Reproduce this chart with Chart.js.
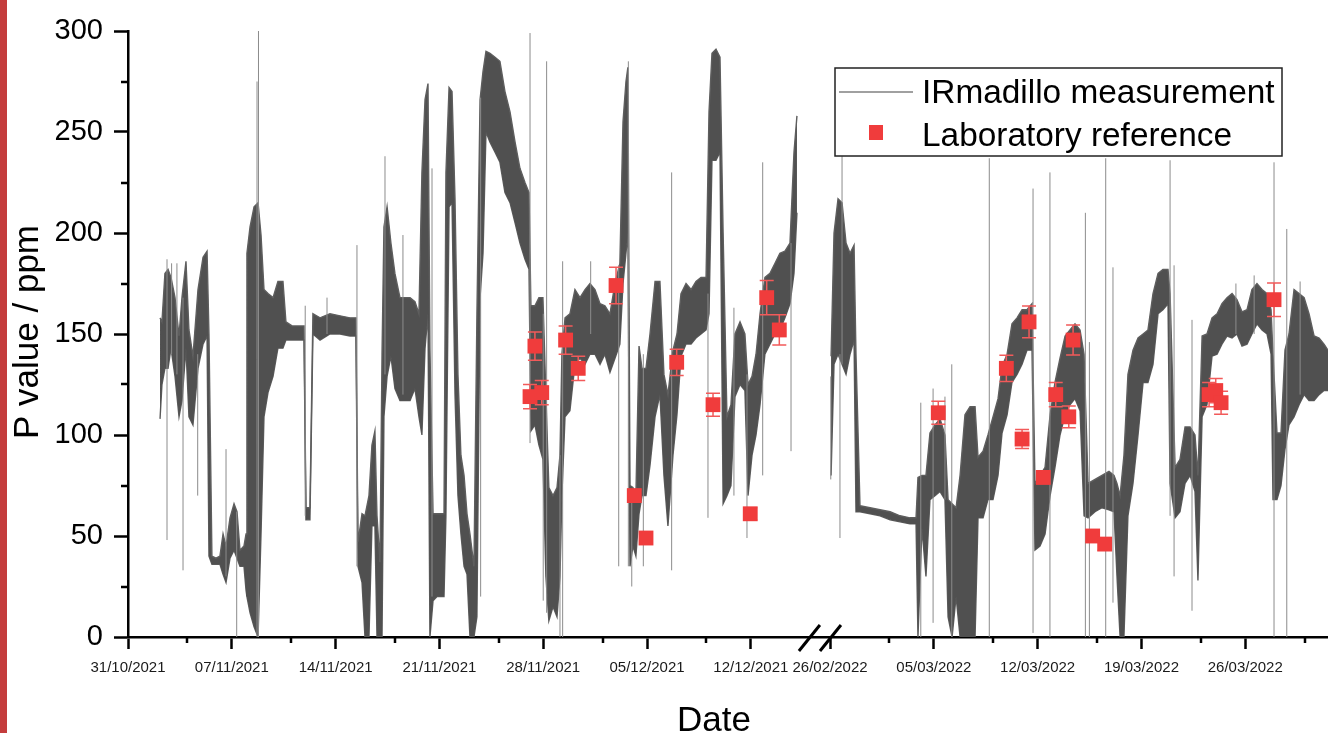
<!DOCTYPE html>
<html>
<head>
<meta charset="utf-8">
<script src="https://cdn.jsdelivr.net/npm/chart.js@4/dist/chart.umd.min.js"></script>
<style>
  html, body { margin: 0; padding: 0; background: #fff; }
  #wrap { position: relative; width: 1328px; height: 733px; overflow: hidden; }
  #stripe { position: absolute; left: 0; top: 0; width: 7px; height: 733px; background: #c43c3c; }
  #chart { position: absolute; left: 0; top: 0; }
</style>
</head>
<body>
<div id="wrap">
  <div id="stripe"></div>
  <canvas id="chart" width="1328" height="733"></canvas>
</div>
<script>
const FONT = "'Liberation Sans', Arial, sans-serif";

// IRmadillo trace, first campaign (days since 31/10/2021): lower / upper edge of the noisy band, ppm
const leftDay = [2.16, 2.29, 2.49, 2.70, 2.90, 3.17, 3.44, 3.64, 3.91, 4.11,
  4.38, 4.72, 5.06, 5.33, 5.46, 5.66, 5.93, 6.20, 6.41, 6.61,
  6.88, 7.15, 7.35, 7.55, 7.82, 7.96, 8.02, 8.23, 8.50, 8.77,
  8.97, 9.17, 9.44, 9.78, 10.11, 10.45, 10.65, 11.06, 11.46, 11.87,
  12.00, 12.27, 12.47, 12.95, 13.62, 14.30, 14.97, 15.37, 15.51, 15.78,
  15.98, 16.25, 16.45, 16.65, 16.79, 16.99, 17.13, 17.26, 17.47, 17.73,
  18.00, 18.34, 18.68, 19.02, 19.35, 19.62, 19.82, 20.03, 20.23, 20.36,
  20.57, 20.84, 21.11, 21.31, 21.44, 21.65, 21.85, 22.05, 22.25, 22.45,
  22.66, 22.86, 23.06, 23.33, 23.53, 23.74, 23.94, 24.14, 24.41, 24.75,
  25.08, 25.42, 25.76, 26.10, 26.43, 26.77, 27.04, 27.17, 27.44, 27.71,
  27.98, 28.18, 28.38, 28.66, 28.93, 29.13, 29.26, 29.47, 29.80, 30.14,
  30.48, 30.82, 31.15, 31.49, 31.83, 32.16, 32.50, 32.84, 33.17, 33.38,
  33.58, 33.71, 33.85, 34.05, 34.25, 34.46, 34.66, 34.93, 35.20, 35.54,
  35.87, 36.14, 36.41, 36.75, 37.02, 37.29, 37.63, 37.97, 38.30, 38.64,
  38.98, 39.18, 39.38, 39.65, 39.92, 40.13, 40.39, 40.66, 40.93, 41.27,
  41.60, 41.81, 42.08, 42.35, 42.62, 42.95, 43.29, 43.63, 43.96, 44.30,
  44.64, 44.91, 45.11];
const leftLow = [108, 125, 133, 133, 143, 129, 109, 117, 143, 109,
  105, 133, 145, 149, 40, 36, 36, 36, 31, 27,
  39, 43, 39, 35, 35, 23, 20, 12, 5, 0,
  51, 109, 121, 129, 143, 143, 147, 147, 147, 147,
  58, 58, 150, 147, 150, 150, 149, 149, 35, 27,
  0, 0, 55, 55, 0, 0, 0, 109, 129, 139,
  123, 117, 117, 117, 123, 109, 100, 143, 160, 0,
  18, 20, 20, 20, 60, 213, 215, 120, 70, 51,
  35, 31, 0, 0, 10, 168, 190, 250, 245, 240,
  235, 220, 215, 205, 195, 187, 182, 102, 105, 95,
  88, 30, 8, 15, 10, 30, 70, 109, 112, 135,
  138, 135, 140, 140, 135, 140, 131, 138, 145, 175,
  190, 200, 35, 45, 40, 61, 70, 70, 85, 109,
  120, 80, 55, 90, 110, 139, 145, 145, 148, 150,
  152, 160, 236, 236, 240, 66, 70, 75, 119, 125,
  122, 70, 90, 100, 115, 140, 145, 150, 152, 158,
  165, 180, 210];
const leftHigh = [158, 156, 180, 182, 178, 168, 149, 168, 186, 152,
  139, 172, 188, 191, 150, 40, 39, 40, 51, 45,
  59, 66, 62, 43, 45, 51, 190, 203, 213, 215,
  199, 172, 170, 168, 176, 176, 156, 154, 154, 154,
  64, 64, 160, 158, 160, 159, 158, 158, 47, 61,
  60, 70, 95, 102, 60, 37, 140, 203, 213, 195,
  180, 168, 168, 168, 166, 160, 230, 266, 274, 143,
  61, 61, 61, 61, 230, 272, 270, 217, 130, 90,
  80, 61, 51, 35, 160, 266, 280, 290, 289, 287,
  285, 270, 260, 245, 232, 225, 220, 164, 164, 168,
  168, 120, 74, 70, 74, 90, 140, 158, 160, 172,
  168, 172, 175, 172, 165, 164, 160, 175, 185, 255,
  275, 282, 75, 74, 70, 144, 133, 133, 150, 176,
  176, 130, 120, 142, 150, 170, 175, 172, 176, 178,
  178, 260, 289, 291, 287, 200, 109, 115, 150, 156,
  150, 125, 129, 140, 160, 178, 180, 185, 190, 191,
  195, 240, 258];

// single readings that stick out of the band
const leftSpikeDay = [2.63, 2.94, 3.30, 3.71, 4.70, 6.61, 7.33, 8.70, 8.80, 11.95,
  13.42, 15.44, 17.33, 18.54, 20.50, 23.78, 27.11, 28.00, 28.23, 29.13,
  29.31, 31.20, 33.09, 33.74, 33.97, 34.75, 36.66, 39.11, 40.86, 41.74,
  42.80, 44.71];
const leftSpikeLow = [48, 140, 130, 33, 70, 30, 0, 0, 0, 60,
  150, 35, 130, 120, 20, 20, 96, 18, 12, 0,
  0, 150, 35, 35, 25, 35, 33, 59, 70, 49,
  80, 92];
const leftSpikeHigh = [187, 185, 185, 168, 140, 93, 62, 275, 300, 164,
  168, 194, 238, 199, 232, 267, 299, 160, 285, 90,
  186, 186, 184, 285, 70, 140, 230, 170, 163, 130,
  235, 195];

// second campaign (days since 26/02/2022)
const rightDay = [0.07, 0.27, 0.54, 0.81, 1.08, 1.35, 1.62, 1.75, 2.02, 2.70,
  3.37, 4.05, 4.72, 5.39, 5.80, 5.93, 6.20, 6.47, 6.74, 7.08,
  7.42, 7.75, 7.96, 8.23, 8.50, 8.77, 9.10, 9.44, 9.78, 9.98,
  10.32, 10.65, 10.99, 11.33, 11.60, 11.94, 12.27, 12.61, 12.95, 13.28,
  13.62, 13.82, 14.16, 14.50, 14.84, 15.17, 15.51, 15.85, 16.18, 16.52,
  16.86, 17.13, 17.40, 17.87, 18.34, 18.81, 19.15, 19.35, 19.56, 19.82,
  20.09, 20.43, 20.77, 21.11, 21.44, 21.78, 22.12, 22.45, 22.79, 22.93,
  23.27, 23.60, 23.94, 24.28, 24.61, 24.81, 25.09, 25.42, 25.76, 26.10,
  26.43, 26.77, 27.11, 27.44, 27.78, 28.12, 28.45, 28.79, 29.13, 29.47,
  29.74, 29.87, 30.14, 30.41, 30.68, 30.95, 31.29, 31.63, 31.97, 32.30,
  32.64, 32.98, 33.31, 33.58];
const rightLow = [80, 135, 140, 135, 130, 140, 147, 62, 62, 61,
  60, 58, 57, 56, 56, 0, 54, 30, 68, 70,
  72, 68, 10, 0, 20, 0, 0, 0, 0, 59,
  59, 68, 68, 80, 101, 110, 126, 130, 135, 142,
  142, 43, 45, 51, 70, 84, 100, 110, 115, 118,
  112, 60, 59, 62, 64, 63, 62, 30, 0, 0,
  60, 76, 100, 126, 126, 135, 160, 162, 165, 76,
  59, 62, 76, 80, 72, 28, 109, 115, 139, 140,
  145, 149, 148, 150, 144, 145, 150, 155, 152, 150,
  140, 68, 68, 75, 93, 105, 109, 115, 120, 117,
  117, 120, 122, 122];
const rightHigh = [139, 200, 217, 215, 195, 190, 194, 140, 65, 64,
  63, 62, 60, 59, 59, 79, 80, 80, 101, 105,
  108, 100, 68, 66, 64, 80, 110, 114, 114, 89,
  92, 100, 109, 118, 134, 140, 155, 158, 162, 162,
  165, 76, 80, 84, 110, 126, 138, 149, 152, 155,
  152, 140, 76, 78, 80, 82, 80, 76, 70, 90,
  130, 142, 148, 150, 152, 170, 180, 182, 182, 170,
  84, 88, 104, 104, 100, 80, 149, 150, 158, 160,
  165, 168, 170, 167, 161, 162, 172, 175, 172, 170,
  162, 140, 101, 101, 142, 150, 172, 170, 168, 160,
  149, 148, 145, 142];

const rightSpikeDay = [0.05, 0.67, 0.81, 6.12, 6.95, 7.75, 8.21, 10.74, 13.69, 14.83,
  17.22, 17.49, 18.59, 19.08, 22.93, 23.20, 24.41, 27.37, 28.60, 29.94,
  30.80, 31.70];
const rightSpikeLow = [78, 49, 135, 0, 7, 68, 0, 0, 2, 0,
  0, 0, 0, 17, 60, 30, 13, 150, 150, 0,
  0, 120];
const rightSpikeHigh = [129, 140, 238, 116, 123, 119, 135, 237, 222, 230,
  210, 146, 237, 183, 236, 184, 157, 175, 179, 235,
  202, 176];

// laboratory reference values with their uncertainty, ppm
const labLeftDay = [27.11, 27.44, 27.90, 29.51, 30.36, 32.91, 34.14, 34.93, 37.00, 39.45, 41.96, 43.07, 43.92];
const labLeftValue = [119, 144, 121, 147, 133, 174, 70, 49, 136, 115, 61, 168, 152];
const labLeftError = [6, 7, 6, 7, 6, 9, 3, 3, 6.5, 5.7, 3, 8.5, 7.5];
const labRightDay = [7.30, 11.89, 12.95, 13.42, 14.38, 15.22, 16.10, 16.39, 17.71, 18.52, 25.56, 26.01, 26.37, 29.94];
const labRightValue = [111, 133, 98, 156, 79, 120, 109, 147, 50, 46, 120, 122, 116, 167];
const labRightError = [5.7, 6.5, 4.7, 7.8, 3, 6, 5.4, 7.4, 3, 3, 6, 6, 5.7, 8.3];

// date axis
const leftTickDays = [0, 7, 14, 21, 28, 35, 42];
const leftTickLabels = ['31/10/2021', '07/11/2021', '14/11/2021', '21/11/2021', '28/11/2021', '05/12/2021', '12/12/2021'];
const rightTickDays = [0, 7, 14, 21, 28];
const rightTickLabels = ['26/02/2022', '05/03/2022', '12/03/2022', '19/03/2022', '26/03/2022'];
const yMinorValues = [25, 75, 125, 175, 225, 275];

// broken axis: 26/02/2022 sits this many "axis days" after 31/10/2021
const GAP_OFFSET = 47.34;
const AXIS_END = 80.92;
const BREAK_AT = [45.95, 47.37];
const LEFT_END = 45.9;

const xTicks = leftTickDays.concat(rightTickDays.map(d => d + GAP_OFFSET));
const xLabels = leftTickLabels.concat(rightTickLabels);
const xMinor = leftTickDays.map(d => d + 4).filter(d => d < LEFT_END)
  .concat(rightTickDays.map(d => d + 4 + GAP_OFFSET));

const toPoints = (days, vals, offset) => days.map((d, i) => ({ x: d + offset, y: vals[i] }));
const toSpikes = (days, lo, hi, offset) => {
  let pts = [];
  days.forEach((d, i) => {
    pts.push({ x: d + offset, y: lo[i] }, { x: d + offset, y: hi[i] }, { x: d + offset, y: null });
  });
  return pts;
};

const labPoints = toPoints(labLeftDay, labLeftValue, 0).concat(toPoints(labRightDay, labRightValue, GAP_OFFSET));
const labError = labLeftError.concat(labRightError);

const trace = { type: 'line', borderColor: '#5e5e5e', borderWidth: 1.4, pointRadius: 0, tension: 0 };

// error bars, drawn just under the red squares
const errorBars = {
  id: 'errorBars',
  beforeDatasetDraw(chart, args) {
    if (args.index !== 5) return;
    const { ctx, scales: { x, y } } = chart;
    ctx.save();
    ctx.strokeStyle = '#f25a5a';
    ctx.lineWidth = 1.5;
    ctx.beginPath();
    labPoints.forEach((p, i) => {
      const px = x.getPixelForValue(p.x);
      const top = y.getPixelForValue(p.y + labError[i]);
      const bot = y.getPixelForValue(p.y - labError[i]);
      ctx.moveTo(px, top); ctx.lineTo(px, bot);
      ctx.moveTo(px - 7, top); ctx.lineTo(px + 7, top);
      ctx.moveTo(px - 7, bot); ctx.lineTo(px + 7, bot);
    });
    ctx.stroke();
    ctx.restore();
  }
};

// minor ticks, axis break, titles and the framed legend
const decorations = {
  id: 'decorations',
  afterDraw(chart) {
    const { ctx, chartArea, scales: { x, y } } = chart;
    ctx.save();
    ctx.strokeStyle = '#000';
    ctx.lineWidth = 2.5;
    ctx.beginPath();
    xMinor.forEach(u => {
      const px = Math.round(x.getPixelForValue(u));
      ctx.moveTo(px, chartArea.bottom); ctx.lineTo(px, chartArea.bottom + 6);
    });
    yMinorValues.forEach(v => {
      const py = Math.round(y.getPixelForValue(v));
      ctx.moveTo(chartArea.left - 7, py); ctx.lineTo(chartArea.left, py);
    });
    ctx.stroke();

    ctx.lineWidth = 3;
    BREAK_AT.forEach(u => {
      const px = x.getPixelForValue(u);
      ctx.beginPath();
      ctx.moveTo(px - 10.5, chartArea.bottom + 14);
      ctx.lineTo(px + 10.5, chartArea.bottom - 12);
      ctx.stroke();
    });

    ctx.fillStyle = '#000';
    ctx.font = '35px ' + FONT;
    ctx.textAlign = 'center';
    ctx.textBaseline = 'alphabetic';
    ctx.fillText('Date', 714, 731);

    ctx.save();
    ctx.translate(28, 332);
    ctx.rotate(-Math.PI / 2);
    ctx.textBaseline = 'middle';
    ctx.fillText('P value / ppm', 0, 0);
    ctx.restore();

    // legend
    ctx.fillStyle = '#fff';
    ctx.fillRect(835, 68, 447, 88);
    ctx.strokeStyle = '#222';
    ctx.lineWidth = 1.5;
    ctx.strokeRect(835, 68, 447, 88);
    ctx.strokeStyle = '#808080';
    ctx.lineWidth = 1.5;
    ctx.beginPath();
    ctx.moveTo(839, 92); ctx.lineTo(913, 92);
    ctx.stroke();
    ctx.fillStyle = '#f03c3c';
    ctx.fillRect(869, 125, 14, 15);
    ctx.fillStyle = '#000';
    ctx.font = '33.4px ' + FONT;
    ctx.textAlign = 'left';
    ctx.fillText(chart.data.datasets[0].label, 922, 103);
    ctx.fillText(chart.data.datasets[5].label, 922, 146);
    ctx.restore();
  }
};

new Chart(document.getElementById('chart'), {
  type: 'line',
  data: {
    datasets: [
      { ...trace, label: 'IRmadillo measurement', data: toPoints(leftDay, leftHigh, 0), backgroundColor: '#505050', fill: 1, order: 3 },
      { ...trace, label: 'left low', data: toPoints(leftDay, leftLow, 0), fill: false, order: 3 },
      { ...trace, label: 'right high', data: toPoints(rightDay, rightHigh, GAP_OFFSET), backgroundColor: '#505050', fill: 3, order: 3 },
      { ...trace, label: 'right low', data: toPoints(rightDay, rightLow, GAP_OFFSET), fill: false, order: 3 },
      {
        type: 'line', label: 'spikes', order: 2, fill: false, spanGaps: false,
        data: toSpikes(leftSpikeDay, leftSpikeLow, leftSpikeHigh, 0)
          .concat(toSpikes(rightSpikeDay, rightSpikeLow, rightSpikeHigh, GAP_OFFSET)),
        borderColor: '#8c8c8c', borderWidth: 1, pointRadius: 0
      },
      {
        type: 'scatter', label: 'Laboratory reference', order: 1, data: labPoints,
        pointStyle: 'rect', pointRadius: 10.5, backgroundColor: '#f03c3c', borderWidth: 0
      }
    ]
  },
  options: {
    responsive: false,
    animation: false,
    events: [],
    layout: { autoPadding: false, padding: { left: 8, top: 31, right: 0, bottom: 0 } },
    plugins: { legend: { display: false }, tooltip: { enabled: false } },
    scales: {
      x: {
        type: 'linear', min: 0, max: AXIS_END,
        border: { display: true, color: '#000', width: 2.5 },
        grid: { display: true, drawOnChartArea: false, drawTicks: true, tickLength: 12, tickWidth: 2.5, tickColor: '#000' },
        afterBuildTicks: (scale) => { scale.ticks = xTicks.map(v => ({ value: v })); },
        afterFit: (scale) => { scale.height = 96; scale.paddingLeft = 0; scale.paddingRight = 0; },
        ticks: {
          autoSkip: false, maxRotation: 0, padding: 10, color: '#1a1a1a',
          font: { family: FONT, size: 15 },
          callback: (value, index) => xLabels[index]
        }
      },
      y: {
        min: 0, max: 300,
        border: { display: true, color: '#000', width: 2.5 },
        grid: { display: true, drawOnChartArea: false, drawTicks: true, tickLength: 14, tickWidth: 2.5, tickColor: '#000' },
        afterFit: (scale) => { scale.width = 120; },
        ticks: { stepSize: 50, padding: 11, color: '#000', font: { family: FONT, size: 29 } }
      }
    }
  },
  plugins: [errorBars, decorations]
});
</script>
</body>
</html>
